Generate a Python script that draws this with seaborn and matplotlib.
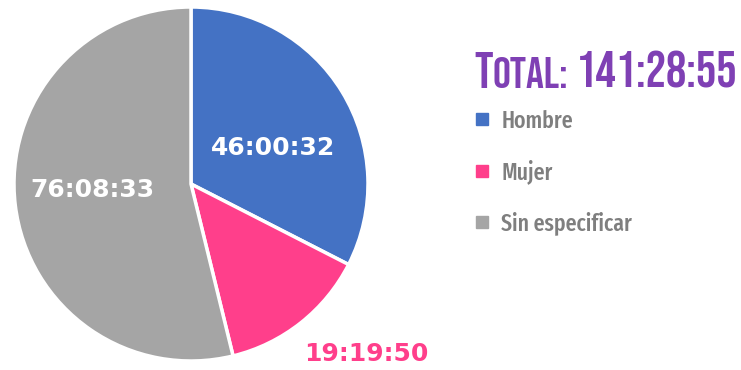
import matplotlib
matplotlib.use("Agg")
import matplotlib.pyplot as plt
from matplotlib.lines import Line2D
import seaborn as sns

# Duration per category, as h:m:s
categories = ["Hombre", "Mujer", "Sin especificar"]
durations = ["46:00:32", "19:19:50", "76:08:33"]
total_label = "141:28:55"

colors = ["#4472C4", "#FF3F8B", "#A5A5A5"]
label_colors = ["white", "#FF3F8B", "white"]
purple = "#7F40B4"
legend_gray = "#7F7F7F"


def to_seconds(s):
    h, m, sec = (int(p) for p in s.split(":"))
    return h * 3600 + m * 60 + sec


seconds = [to_seconds(d) for d in durations]

sns.set_theme(style="white")
plt.rcParams["font.family"] = ["DejaVu Sans"]

W, H = 741, 370
fig = plt.figure(figsize=(W / 100, H / 100), dpi=100)
ax = fig.add_axes([14 / W, 9 / H, 354 / W, 354 / H])

wedges, _ = ax.pie(
    seconds,
    colors=colors,
    startangle=90,
    counterclock=False,
    radius=1.0,
    wedgeprops=dict(edgecolor="white", linewidth=2.5),
)
ax.set_xlim(-1, 1)
ax.set_ylim(-1, 1)
ax.set_aspect("equal")
ax.axis("off")

# value labels
label_pos = [(0.463, 0.203), (0.99, -0.96), (-0.555, -0.035)]
for (x, y), txt, c in zip(label_pos, durations, label_colors):
    ax.text(x, y, txt, ha="center", va="center", color=c,
            fontsize=18, fontweight="bold", family=["DejaVu Sans"])

# title with small-caps styling, fitted to the space on the right
title_font = ["Bebas Neue", "DejaVu Sans"]
tx, ty = 474 / W, 1 - 88 / H
target_w = 263


def draw_title(scale):
    parts = []
    x = tx
    for s, size, gap in [("T", 39, 0), ("OTAL:", 34, 8), (total_label, 39, 0)]:
        t = fig.text(x, ty, s, fontsize=size * scale, color=purple,
                     family=title_font, va="baseline")
        fig.canvas.draw()
        bb = t.get_window_extent()
        x = (bb.x1 + gap * scale) / W
        parts.append(t)
    width = parts[-1].get_window_extent().x1 - tx * W
    return parts, width


parts, width = draw_title(1.0)
for p in parts:
    p.remove()
parts, width = draw_title(target_w / width)

handles = [Line2D([0], [0], marker="s", linestyle="none", markersize=9,
                  markerfacecolor=c, markeredgecolor=c) for c in colors]
leg = fig.legend(handles, categories, loc="upper left",
                 bbox_to_anchor=(454 / W, 1 - 88 / H),
                 frameon=False, handlelength=0.6, handletextpad=0.5,
                 labelspacing=1.15,
                 prop=dict(family=["Fira Sans Extra Condensed", "DejaVu Sans"], size=17, weight=500))
for t in leg.get_texts():
    t.set_color(legend_gray)

fig.savefig("out.png", dpi=100, facecolor="white")
